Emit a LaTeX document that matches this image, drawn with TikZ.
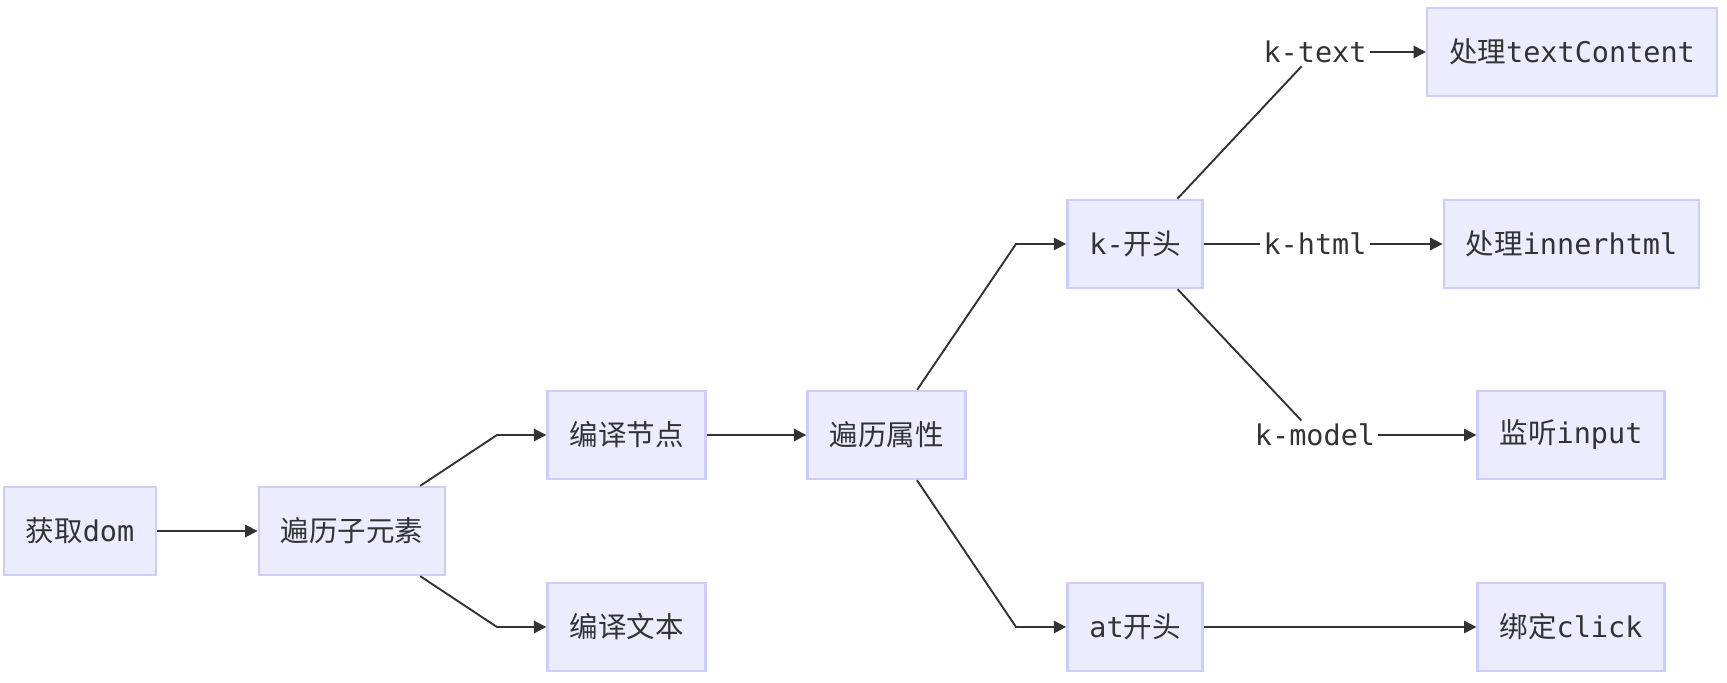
\documentclass[tikz,border=0pt]{standalone}
\usepackage{fontspec}
\setmainfont{DejaVu Sans Mono}
\newfontfamily\zhfont{Noto Sans CJK SC}
\usepackage{xcolor}
\usetikzlibrary{arrows.meta, calc}
\definecolor{nodefill}{HTML}{ECECFF}
\definecolor{nodeline}{HTML}{CCCCFF}
\definecolor{ink}{HTML}{333333}

\begin{document}
\begin{tikzpicture}[
    x=0.5pt, y=-0.5pt,
    box/.style={rectangle, draw=nodeline, line width=1.2pt, fill=nodefill, minimum height=44pt, inner xsep=11pt, font=\fontsize{14.25}{17}\selectfont, text=ink},
    lbl/.style={font=\fontsize{14.25}{17}\selectfont, text=ink, inner sep=1.5pt},
    conn/.style={draw=ink, line width=0.95pt},
    arrow/.style={conn, -{Triangle[length=6.2pt, width=6.2pt]}}
]
\useasboundingbox (0,0) rectangle (1727,683);

% Column 1: DOM
\node[box] (dom) at (80, 531) {{\zhfont 获取}dom};
\node[box] (sub) at (352, 531) {\zhfont 遍历子元素};

\draw[arrow] (dom) -- (sub);

% Column 2: compile
\node[box] (cnode) at (626.5, 435) {\zhfont 编译节点};
\node[box] (ctext) at (626.5, 627) {\zhfont 编译文本};

\coordinate (b1) at (497, 435);
\coordinate (b2) at (497, 627);
\draw[arrow] (sub) -- (b1) -- (cnode);
\draw[arrow] (sub) -- (b2) -- (ctext);

% Column 3: attributes
\node[box] (attr) at (886.5, 435) {\zhfont 遍历属性};

\draw[arrow] (cnode) -- (attr);

\node[box] (kstart) at (1135, 244) {k-{\zhfont 开头}};
\node[box] (atstart) at (1135, 627) {at{\zhfont 开头}};

\coordinate (b3) at (1016, 244);
\coordinate (b4) at (1016, 627);
\draw[arrow] (attr) -- (b3) -- (kstart);
\draw[arrow] (attr) -- (b4) -- (atstart);

% Column 4: directives
\node[lbl] (ltext) at (1315, 52) {k-text};
\node[lbl] (lhtml) at (1315, 244) {k-html};
\node[lbl] (lmodel) at (1315, 435) {k-model};

\node[box] (tc) at (1572, 52) {{\zhfont 处理}textContent};
\node[box] (ih) at (1571.5, 244) {{\zhfont 处理}innerhtml};
\node[box] (inp) at (1571, 435) {{\zhfont 监听}input};
\node[box] (clk) at (1571, 627) {{\zhfont 绑定}click};

\draw[conn] (kstart) -- (ltext);
\draw[conn] (kstart) -- (lhtml);
\draw[conn] (kstart) -- (lmodel);

\draw[arrow] (ltext) -- (tc);
\draw[arrow] (lhtml) -- (ih);
\draw[arrow] (lmodel) -- (inp);
\draw[arrow] (atstart) -- (clk);

\end{tikzpicture}
\end{document}
